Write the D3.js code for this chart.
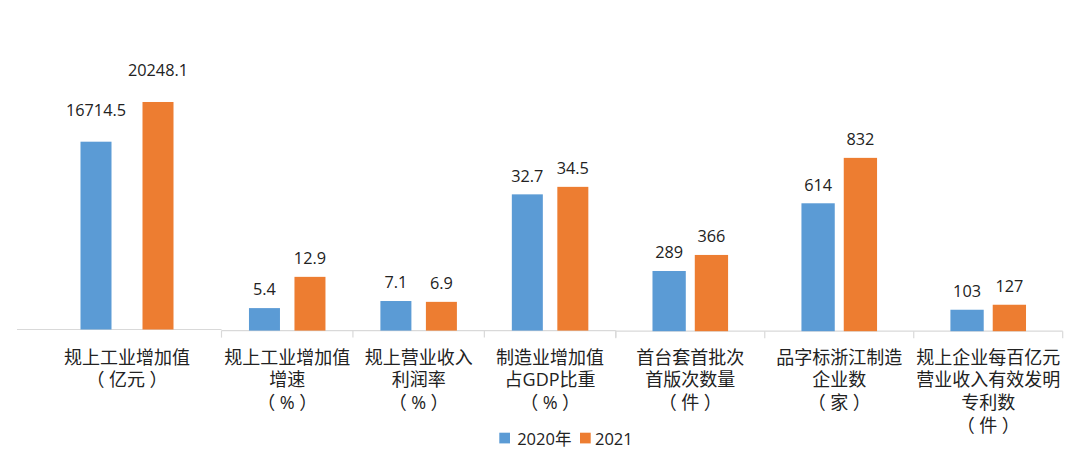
<!DOCTYPE html>
<html>
<head>
<meta charset="utf-8">
<script src="https://cdn.jsdelivr.net/npm/d3@7/dist/d3.min.js"></script>
<style>
  html, body { margin: 0; padding: 0; background: #ffffff; }
  svg { display: block; }
  text { font-family: "Open Sans", "Noto Sans CJK SC", sans-serif; }
</style>
</head>
<body>
<svg id="chart" width="1080" height="467"></svg>
<script>
// ---------- data ----------
const categories = [
  ["规上工业增加值", "（亿元）"],
  ["规上工业增加值", "增速", "（%）"],
  ["规上营业收入", "利润率", "（%）"],
  ["制造业增加值", "占GDP比重", "（%）"],
  ["首台套首批次", "首版次数量", "（件）"],
  ["品字标浙江制造", "企业数", "（家）"],
  ["规上企业每百亿元", "营业收入有效发明", "专利数", "（件）"]
];
const seriesNames = ["2020年", "2021"];
const values2020 = [16714.5, 5.4, 7.1, 32.7, 289, 614, 103];
const values2021 = [20248.1, 12.9, 6.9, 34.5, 366, 832, 127];
const valueLabels2020 = ["16714.5", "5.4", "7.1", "32.7", "289", "614", "103"];
const valueLabels2021 = ["20248.1", "12.9", "6.9", "34.5", "366", "832", "127"];
// axis maxima of the three pasted sub-charts
const axisMax = [22250, 60, 1200];

// ---------- layout (the reference is three sub-charts pasted side by side) ----------
const groups = [
  { cats: [0],       x0: 32.5,  x1: 221.5,  lineStart: 17,    baseline: 329.5, barW: 31,   gap: 31,   labelGap: 25.5, ticks: false },
  { cats: [1, 2, 3], x0: 221.5, x1: 615.8,  lineStart: 221.5, baseline: 330.6, barW: 31,   gap: 14.5, labelGap: 12.7, ticks: true },
  { cats: [4, 5, 6], x0: 615.8, x1: 1062.7, lineStart: 615.8, baseline: 331.2, barW: 33.3, gap: 9,    labelGap: 12.7, ticks: true }
];
const plotH = 250;
const colors = ["#5B9BD5", "#ED7D31"];
const textColor = "#222222";
const axisColor = "#d9d9d9";
const catFont = 18;
const bracketPad = 4.5;

const svg = d3.select("#chart");
const series = [values2020, values2021];
const seriesLabels = [valueLabels2020, valueLabels2021];

groups.forEach((g, gi) => {
  const xBand = d3.scaleBand().domain(g.cats).range([g.x0, g.x1]).padding(0);
  const half = g.barW + g.gap / 2;
  const xInner = d3.scaleBand().domain([0, 1]).range([-half, half])
    .paddingInner(g.gap / (g.barW + g.gap)).paddingOuter(0);
  const y = d3.scaleLinear().domain([0, axisMax[gi]]).range([g.baseline, g.baseline - plotH]);

  const gEl = svg.append("g");

  // axis line
  gEl.append("line")
    .attr("x1", g.lineStart).attr("x2", g.x1)
    .attr("y1", g.baseline).attr("y2", g.baseline)
    .attr("stroke", axisColor).attr("stroke-width", 1.2);
  if (g.ticks) {
    const bounds = g.cats.map(c => xBand(c)).concat([g.x1]);
    gEl.selectAll("line.tick").data(bounds).enter().append("line")
      .attr("class", "tick")
      .attr("x1", d => d).attr("x2", d => d)
      .attr("y1", g.baseline).attr("y2", g.baseline + 7)
      .attr("stroke", axisColor).attr("stroke-width", 1.2);
  }

  g.cats.forEach(c => {
    const cx = xBand(c) + xBand.bandwidth() / 2;
    [0, 1].forEach(s => {
      const v = series[s][c];
      const bx = cx + xInner(s);
      gEl.append("rect")
        .attr("x", bx).attr("width", xInner.bandwidth())
        .attr("y", y(v)).attr("height", g.baseline - y(v))
        .attr("fill", colors[s]);
      gEl.append("text")
        .attr("x", bx + xInner.bandwidth() / 2)
        .attr("y", y(v) - g.labelGap)
        .attr("text-anchor", "middle")
        .attr("font-size", 16.3)
        .attr("fill", textColor)
        .text(seriesLabels[s][c]);
    });
    // category label
    categories[c].forEach((line, li) => {
      const t = gEl.append("text")
        .attr("x", cx)
        .attr("y", 356.5 + li * 22.7)
        .attr("dominant-baseline", "central")
        .attr("text-anchor", "middle")
        .attr("font-size", catFont)
        .attr("fill", textColor);
      if (line.startsWith("（") && line.endsWith("）")) {
        t.append("tspan").text("（");
        t.append("tspan").attr("dx", bracketPad).text(line.slice(1, -1));
        t.append("tspan").attr("dx", bracketPad).text("）");
      } else {
        t.text(line);
      }
    });
  });
});

// ---------- legend ----------
const legendItems = [
  { sq: 499.3, tx: 517.2 },
  { sq: 580,   tx: 595 }
];
const lg = svg.append("g");
seriesNames.forEach((name, i) => {
  lg.append("rect")
    .attr("x", legendItems[i].sq).attr("y", 432.7)
    .attr("width", 10.7).attr("height", 10.7)
    .attr("fill", colors[i]);
  lg.append("text")
    .attr("x", legendItems[i].tx).attr("y", 445)
    .attr("font-size", 16.5)
    .attr("fill", textColor)
    .text(name);
});
</script>
</body>
</html>
